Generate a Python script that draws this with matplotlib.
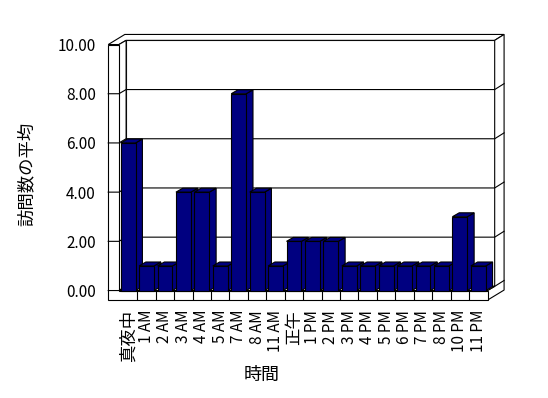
import matplotlib
matplotlib.use('Agg')
import matplotlib.pyplot as plt

plt.rcParams['font.family'] = ['Noto Sans CJK JP', 'DejaVu Sans']

# data
hours = ['真夜中', '1 AM', '2 AM', '3 AM', '4 AM', '5 AM', '7 AM', '8 AM', '11 AM', '正午',
         '1 PM', '2 PM', '3 PM', '4 PM', '5 PM', '6 PM', '7 PM', '8 PM', '10 PM', '11 PM']
visits = [6, 1, 1, 4, 4, 1, 8, 4, 1, 2, 2, 2, 1, 1, 1, 1, 1, 1, 3, 1]
y_ticks = [0, 2, 4, 6, 8, 10]

n = len(hours)
top = y_ticks[-1]
bar_color = '#000080'

fig = plt.figure(figsize=(5.48, 3.98), dpi=100)
ax = fig.add_axes([0.217, 0.270, 0.6726, 0.6181])
ax.set_xlim(0, n)
ax.set_ylim(0, top)
ax.patch.set_visible(False)
for s in ax.spines.values():
    s.set_visible(False)

# 3d look: depth offsets in data units
bdx, bdy = 0.37, 0.16    # bar depth
wdx, wdy = 0.39, 0.17    # inner face of back wall
odx, ody = 0.90, 0.41    # back of the wall slabs
lwt = 0.58               # left wall thickness
flt = 0.39               # floor thickness

wall = dict(facecolor='white', edgecolor='black', linewidth=0.8, clip_on=False, zorder=0)

# back wall
ax.fill([wdx, n + wdx, n + wdx, wdx], [wdy, wdy, top + wdy, top + wdy], **wall)
# top of walls
ax.fill([-lwt, 0, wdx, n + wdx, n + odx, -lwt + odx],
        [top, top, top + wdy, top + wdy, top + ody, top + ody], **wall)
# right side of walls and floor
ax.fill([n, n, n + wdx, n + wdx, n + odx, n + odx],
        [-flt, 0, wdy, top + wdy, top + ody, -flt + ody], **wall)
# left wall inner face
ax.fill([0, wdx, wdx, 0], [0, wdy, top + wdy, top], **wall)
# floor top
ax.fill([0, n, n + wdx, wdx], [0, 0, wdy, wdy], **wall)
# front of floor and left wall
ax.fill([-lwt, n, n, 0, 0, -lwt], [-flt, -flt, 0, 0, top, top], **wall)

# gridlines wrapping round the walls
for v in y_ticks[:-1]:
    ax.plot([-lwt, 0, wdx, n + wdx, n + odx], [v, v, v + wdy, v + wdy, v + ody],
            color='black', lw=0.8, clip_on=False, zorder=1)
# category ticks on the floor front
ax.vlines(range(1, n), -flt, 0, color='black', lw=0.8, clip_on=False, zorder=1)

# bars
x = [i + 0.5 for i in range(n)]
w = 0.81
for i, v in enumerate(visits):
    x0 = x[i] - w / 2
    x1 = x[i] + w / 2
    ax.fill([x1, x1 + bdx, x1 + bdx, x1], [0, bdy, v + bdy, v],
            facecolor=bar_color, edgecolor='black', lw=0.8, zorder=3 + i, clip_on=False)
    ax.fill([x0, x1, x1 + bdx, x0 + bdx], [v, v, v + bdy, v + bdy],
            facecolor=bar_color, edgecolor='black', lw=0.8, zorder=3 + i, clip_on=False)
bars = ax.bar(x, visits, width=w, color=bar_color, edgecolor='black', linewidth=0.8)
for i, b in enumerate(bars):
    b.set_zorder(3.5 + i)
    b.set_clip_on(False)

# ticks and labels
ax.set_yticks(y_ticks)
ax.set_yticklabels(['%.2f' % v for v in y_ticks])
ax.set_xticks(x)
ax.set_xticklabels(hours, rotation=90)
ax.tick_params(axis='y', length=0, pad=16.5, labelsize=11)
ax.tick_params(axis='x', length=0, pad=14, labelsize=11)
for t in ax.get_xticklabels():
    if not t.get_text().isascii():
        t.set_fontsize(12.5)

ax.set_xlabel('時間', fontsize=13)
ax.xaxis.label.set_va('center')
ax.xaxis.set_label_coords(0.387, -0.343)
ax.set_ylabel('訪問数の平均', fontsize=12.5)
ax.yaxis.label.set_va('center')
ax.yaxis.set_label_coords(-0.251, 0.476)

fig.savefig('out.png', dpi=100, facecolor='white')
